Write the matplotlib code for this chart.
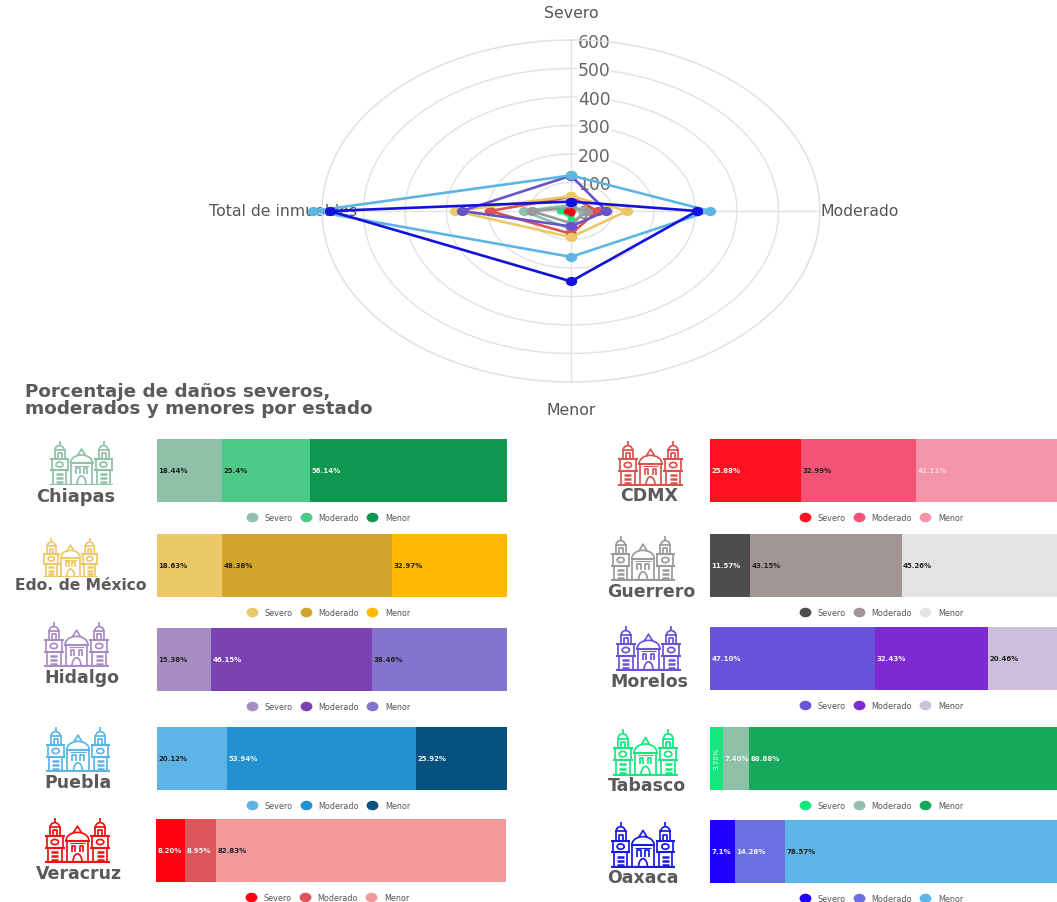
import numpy as np
import matplotlib
matplotlib.use("Agg")
import matplotlib.pyplot as plt
from matplotlib.lines import Line2D
from matplotlib.path import Path
from matplotlib.patches import Arc

W, H = 1057, 903

# ---------- radar data ----------
radar_axes = ["Severo", "Moderado", "Menor", "Total de inmuebles"]
radar_ticks = [0, 100, 200, 300, 400, 500, 600]
chiapas_r = [21, 29, 64, 114]
cdmx_r = [50, 64, 80, 195]
edomex_r = [52, 135, 92, 279]
guerrero_r = [11, 41, 43, 95]
hidalgo_r = [2, 6, 5, 13]
morelos_r = [124, 85, 54, 263]
puebla_r = [125, 335, 161, 621]
tabasco_r = [1, 2, 24, 27]
veracruz_r = [1, 1, 8, 10]
azul_r = [33, 304, 247, 581]

# ---------- stacked bars data (percent) ----------
segments = ["Severo", "Moderado", "Menor"]
chiapas_p = [18.44, 25.4, 56.14]
edomex_p = [18.63, 48.38, 32.97]
hidalgo_p = [15.38, 46.15, 38.46]
puebla_p = [20.12, 53.94, 25.92]
veracruz_p = [8.20, 8.95, 82.83]
cdmx_p = [25.88, 32.99, 41.11]
guerrero_p = [11.57, 43.15, 45.26]
morelos_p = [47.10, 32.43, 20.46]
tabasco_p = [3.70, 7.40, 88.88]
oaxaca_p = [7.1, 14.28, 78.57]

chiapas_lbl = ["18.44%", "25.4%", "56.14%"]
edomex_lbl = ["18.63%", "48.38%", "32.97%"]
hidalgo_lbl = ["15.38%", "46.15%", "38.46%"]
puebla_lbl = ["20.12%", "53.94%", "25.92%"]
veracruz_lbl = ["8.20%", "8.95%", "82.83%"]
cdmx_lbl = ["25.88%", "32.99%", "41.11%"]
guerrero_lbl = ["11.57%", "43.15%", "45.26%"]
morelos_lbl = ["47.10%", "32.43%", "20.46%"]
tabasco_lbl = ["3.70%", "7.40%", "88.88%"]
oaxaca_lbl = ["7.1%", "14.28%", "78.57%"]

DK, WH = "#222222", "#f4f4f4"
# name, percents, labels, colours, label colours, bar(x,top), icon(x0,x1,top,base), icon colour, name(cx,cy,size)
rows = [
    ("Chiapas", chiapas_p, chiapas_lbl, ["#8FC1A9", "#4BC986", "#0F974F"], [DK, DK, WH], (157, 439), (50, 113, 442, 486), "#8FC1A9", (76, 497, 12.8)),
    ("Edo. de México", edomex_p, edomex_lbl, ["#EDC869", "#D1A52B", "#FFB703"], [DK, DK, DK], (157, 534), (43, 98, 539, 578), "#EDC869", (81, 586, 11.2)),
    ("Hidalgo", hidalgo_p, hidalgo_lbl, ["#A88CC4", "#7B43B2", "#8474CE"], [DK, WH, DK], (157, 628), (44, 109, 623, 668), "#A88CC4", (82, 678, 12.5)),
    ("Puebla", puebla_p, puebla_lbl, ["#5DB5E5", "#2191D2", "#03527F"], [DK, WH, WH], (157, 727), (46, 110, 728, 773), "#5DB5E5", (78, 783, 12.5)),
    ("Veracruz", veracruz_p, veracruz_lbl, ["#FF0010", "#DE5559", "#F1989B"], [WH, WH, DK], (156, 819), (45, 110, 819, 864), "#EE1111", (79, 874, 12.5)),
    ("CDMX", cdmx_p, cdmx_lbl, ["#FF101F", "#F55376", "#F495AC"], [WH, DK, "#f8d8e0"], (710, 439), (618, 683, 442, 487), "#D9534F", (649, 496, 12.5)),
    ("Guerrero", guerrero_p, guerrero_lbl, ["#4D4D4D", "#A09795", "#E3E3E3"], [WH, DK, DK], (710, 534), (611, 675, 537, 582), "#9A9A9A", (651, 592, 12.5)),
    ("Morelos", morelos_p, morelos_lbl, ["#6853DB", "#7E2AD2", "#CDBFDC"], [WH, WH, DK], (710, 627), (616, 681, 627, 672), "#6853DB", (649, 682, 12.5)),
    ("Tabasco", tabasco_p, tabasco_lbl, ["#15E77F", "#8FC1A9", "#16A95C"], [WH, WH, WH], (710, 727), (613, 678, 730, 777), "#15E77F", (647, 786, 12.5)),
    ("Oaxaca", oaxaca_p, oaxaca_lbl, ["#2000FF", "#6A70DF", "#5DB5E5"], [WH, WH, DK], (710, 820), (611, 675, 823, 869), "#1A1AE0", (643, 878, 12.5)),
]

# series, colour, marker width in px
radar_series = [
    (chiapas_r, "#8FC1A9", 10), (guerrero_r, "#9A9A9A", 10), (cdmx_r, "#D9534F", 10),
    (edomex_r, "#EDC869", 10), (morelos_r, "#6853C8", 10), (puebla_r, "#5DB5E5", 10),
    (azul_r, "#1212DC", 10), (hidalgo_r, "#A88CC4", 5), (tabasco_r, "#15E77F", 6),
    (veracruz_r, "#FF0010", 6),
]

plt.rcParams["font.family"] = ["DejaVu Sans"]
fig = plt.figure(figsize=(W / 100, H / 100), dpi=100, facecolor="white")


def px_axes(x0, y0, x1, y1, **kw):
    return fig.add_axes([x0 / W, 1 - y1 / H, (x1 - x0) / W, (y1 - y0) / H], **kw)


TXT = "#555555"
GRID = "#e2e2e2"
_uc = Path.unit_circle()
OVAL = Path(_uc.vertices * np.array([1.28, 1.0]), _uc.codes)

# ---------- radar ----------
cx, cy, rx, ry = 571, 212, 249, 171
ax = px_axes(cx - rx, cy - ry, cx + rx, cy + ry, projection="polar")
ax.set_aspect("auto")
ax.set_theta_zero_location("N")
ax.set_theta_direction(-1)
angles = np.deg2rad([0, 90, 180, 270])
ax.set_ylim(0, radar_ticks[-1])
ax.set_xticks(angles)
ax.set_xticklabels([])
ax.set_yticks(radar_ticks)
ax.set_yticklabels([])
ax.grid(True, color=GRID, lw=1.0)
ax.spines["polar"].set_color(GRID)
ax.spines["polar"].set_linewidth(1.0)
for t in radar_ticks:
    ax.annotate(str(t), (0, t), xytext=(7, 0), textcoords="offset pixels", ha="left", va="center_baseline",
                fontsize=12.4, color="#666666", annotation_clip=False, zorder=2,
                bbox=dict(fc="white", ec="none", pad=0.5) if t > 100 else None)
for vals, col, mw in radar_series:
    th = np.append(angles, angles[0])
    rr = np.append(vals, vals[0])
    ax.plot(th, rr, color=col, lw=1.9, marker=OVAL, ms=mw * 0.72, mec=col, clip_on=False, zorder=3)
for ang, name in zip(angles, radar_axes):
    ax.text(ang, 695, name, ha="center", va="center", fontsize=11.3, color=TXT,
            clip_on=False, zorder=2.5)

# ---------- title ----------
fig.text(25 / W, 1 - 400.5 / H, "Porcentaje de daños severos,\nmoderados y menores por estado",
         ha="left", va="center", fontsize=13.2, color="#5a5a5a", fontweight="bold", linespacing=0.96)


# ---------- icon ----------
def draw_icon(a, c):
    lw = 1.25
    kw = dict(color=c, lw=lw, solid_capstyle="butt")
    a.set_xlim(0, 63)
    a.set_ylim(0, 44)
    a.axis("off")

    def poly(xs, ys, **extra):
        a.plot(xs, ys, **{**kw, **extra})

    poly([0, 63], [0.5, 0.5], lw=1.6)
    for sign, o in ((1, 0), (-1, 63)):
        X = lambda v: o + sign * v
        poly([X(3), X(3)], [0, 15])
        poly([X(16), X(16)], [0, 15])
        for y in (3, 7, 11):
            poly([X(6), X(13)], [y, y], lw=1.8)
        poly([X(0), X(19)], [15, 15], lw=1.5)
        poly([X(1.5), X(1.5)], [15, 26])
        poly([X(17.5), X(17.5)], [15, 26])
        a.add_patch(Arc((X(9.5), 20.5), 7, 5, color=c, lw=lw))
        poly([X(0), X(19)], [26, 26], lw=1.5)
        poly([X(4.5), X(4.5)], [26, 35])
        poly([X(14.5), X(14.5)], [26, 35])
        poly([X(7.5), X(7.5), X(11.5), X(11.5)], [27, 32, 32, 27])
        poly([X(3.5), X(15.5)], [35, 35])
        a.add_patch(Arc((X(9.5), 35), 9, 9, theta1=0, theta2=180, color=c, lw=lw))
        poly([X(9.5), X(9.5)], [39.5, 44])
    poly([21, 21], [0, 22])
    poly([42, 42], [0, 22])
    poly([19.5, 43.5], [22, 22], lw=1.5)
    a.add_patch(Arc((31.5, 22), 22, 16, theta1=0, theta2=180, color=c, lw=lw))
    poly([27.5, 31.5, 35.5], [29.5, 36, 29.5])
    a.add_patch(Arc((31.5, 0), 9, 18, theta1=0, theta2=180, color=c, lw=lw))
    for x0 in (26, 33.5):
        poly([x0, x0, x0 + 3.5, x0 + 3.5], [11, 17, 17, 11])
    poly([24, 39], [19.5, 19.5], lw=0.8)


# ---------- bars ----------
BAR_W, BAR_H = 350, 63
for name, pct, lbl, cols, lcols, (bx, by), (ix0, ix1, itop, ibase), icol, (nx, ny, nsize) in rows:
    a = px_axes(bx, by + 0.6, bx + BAR_W, by + 0.6 + BAR_H)
    a.set_xlim(0, 100)
    a.set_ylim(-0.5, 0.5)
    a.axis("off")
    left = 0.0
    for v, t, col, lc in zip(pct, lbl, cols, lcols):
        a.barh(0, v, left=left, height=1, color=col, edgecolor="none")
        if v < 5:
            a.annotate(t, (left + v / 2, 0), ha="center", va="center", rotation=90,
                       fontsize=5, color=lc)
        else:
            a.annotate(t, (left, 0), xytext=(1.5, 0), textcoords="offset pixels", ha="left", va="center",
                       fontsize=5, color=lc, fontweight="bold")
        left += v
    handles = [Line2D([], [], ls="none", marker=OVAL, ms=7.5, color=c, mec=c) for c in cols]
    a.legend(handles, segments, loc="center", bbox_to_anchor=(0.491, -0.254), ncol=3, frameon=False,
             labelcolor=TXT, handlelength=1, handletextpad=1.1, columnspacing=1.1,
             borderpad=0, borderaxespad=0, prop=dict(size=5.8))
    ia = px_axes(ix0, itop, ix1, ibase)
    draw_icon(ia, icol)
    fig.text(nx / W, 1 - ny / H, name, ha="center", va="center", fontsize=nsize, color="#5a5a5a",
             fontweight="bold")

fig.savefig("out.png", dpi=100, facecolor="white")
